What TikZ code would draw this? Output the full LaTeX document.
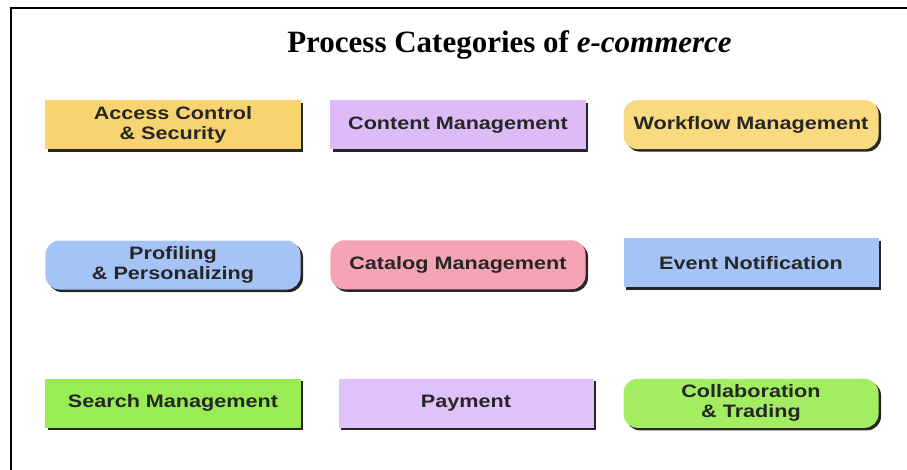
\documentclass[tikz,border=0pt]{standalone}
\usepackage{fontspec}
\setmainfont{Liberation Serif}
\newfontfamily\boxfont[FakeStretch=1.2]{Liberation Sans}
\usetikzlibrary{matrix,shadows}
\definecolor{goldbox}{HTML}{F8D470}
\definecolor{goldlight}{HTML}{F9DA7E}
\definecolor{lilacbox}{HTML}{DDBBF7}
\definecolor{lilaclight}{HTML}{E0C2F8}
\definecolor{skybox}{HTML}{A6C3F5}
\definecolor{pinkbox}{HTML}{F6A4B4}
\definecolor{limebox}{HTML}{9AEC55}
\definecolor{limelight}{HTML}{A2EE60}
\definecolor{inkdark}{HTML}{262626}

\begin{document}
\begin{tikzpicture}[
     x=1pt, y=-1pt,
     % define styles
     cat/.style={
         font=\boxfont\bfseries\fontsize{18}{20}\selectfont,
         text=inkdark,
         minimum width=255pt,
         minimum height=49pt,
         inner sep=0pt,
         drop shadow={shadow xshift=2.5pt, shadow yshift=-2.5pt,
                      fill=black!85, opacity=1}
     },
     sq/.style={cat, rectangle},
     rnd/.style={cat, rectangle, rounded corners=14pt},
     cats/.style={
         matrix of nodes,
         nodes in empty cells,
         column sep=30pt,
         row sep=89pt
     }
]
\useasboundingbox (0,0) rectangle (907,470);
% frame
\draw[line width=1.5pt] (11,470) -- (11,8) -- (907,8);
% heading
\node[anchor=base, font=\bfseries\fontsize{31}{36}\selectfont] (title) at (509.5,53)
    {Process Categories of \textit{e-commerce}};
% grid of categories
\matrix[cats] (mat) at (462,264)
{
|[sq, fill=goldbox]| \parbox{240pt}{\centering Access Control\\\& Security}
    & |[sq, fill=lilacbox]| Content Management
    & |[rnd, fill=goldlight]| Workflow Management \\
|[rnd, fill=skybox]| \parbox{240pt}{\centering Profiling\\\& Personalizing}
    & |[rnd, fill=pinkbox]| Catalog Management
    & |[sq, fill=skybox]| Event Notification \\
|[sq, fill=limebox]| Search Management
    & |[sq, fill=lilaclight, xshift=8pt]| Payment
    & |[rnd, fill=limelight]| \parbox{240pt}{\centering Collaboration\\\& Trading} \\
};
\end{tikzpicture}
\end{document}
